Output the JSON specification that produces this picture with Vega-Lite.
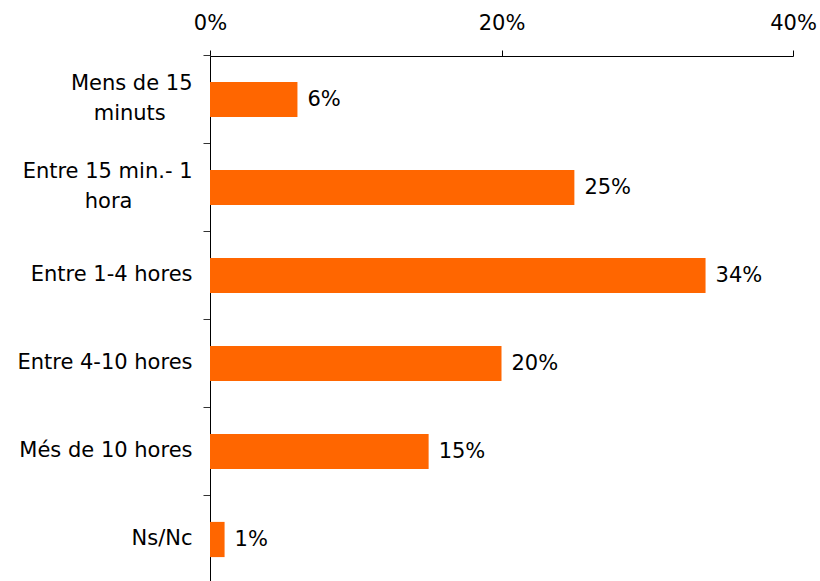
{
  "$schema": "https://vega.github.io/schema/vega-lite/v6.json",
  "autosize": "none",
  "width": 583,
  "height": 525,
  "padding": {"left": 210, "top": 56, "right": 27, "bottom": 0},
  "background": "white",
  "config": {"view": {"stroke": null}, "font": "DejaVu Sans"},
  "data": {"values": [
    {"cat": "Mens de 15 minuts", "pct": 0.06},
    {"cat": "Entre 15 min.- 1 hora", "pct": 0.25},
    {"cat": "Entre 1-4 hores", "pct": 0.34},
    {"cat": "Entre 4-10 hores", "pct": 0.20},
    {"cat": "Més de 10 hores", "pct": 0.15},
    {"cat": "Ns/Nc", "pct": 0.01}
  ]},
  "encoding": {
    "y": {
      "field": "cat", "type": "nominal", "sort": null, "title": null,
      "scale": {"paddingInner": 0.6, "paddingOuter": 0.283, "align": 0.52},
      "axis": {
        "orient": "left",
        "domainColor": "black", "domainWidth": 1,
        "tickColor": "#333333", "tickSize": 7, "bandPosition": -0.75,
        "labelFont": "DejaVu Sans", "labelFontSize": 21, "labelColor": "black",
        "labelLineHeight": 30,
        "labelExpr": "datum.value === 'Mens de 15 minuts' ? ['Mens de 15', 'minuts\u00a0\u00a0\u00a0\u00a0\u200b'] : (datum.value === 'Entre 15 min.- 1 hora' ? ['Entre 15 min.- 1', 'hora\u00a0\u00a0\u00a0\u00a0\u00a0\u00a0\u00a0\u00a0\u00a0\u200b'] : datum.label)",
        "labelBaseline": {"condition": {"test": "datum.value === 'Mens de 15 minuts' || datum.value === 'Entre 15 min.- 1 hora'", "value": "line-bottom"}, "value": "middle"},
        "labelPadding": 11,
        "labelLimit": 400
      }
    },
    "x": {
      "field": "pct", "type": "quantitative", "title": null,
      "scale": {"domain": [0, 0.4], "nice": false},
      "axis": {
        "orient": "top", "values": [0, 0.2, 0.4],
        "format": ".0%",
        "grid": false,
        "domainColor": "black", "tickColor": "black", "tickSize": 6,
        "labelFont": "DejaVu Sans", "labelFontSize": 21, "labelColor": "black",
        "labelPadding": 17, "labelFlush": false
      }
    }
  },
  "layer": [
    {"mark": {"type": "bar", "color": "#FF6600"}},
    {"mark": {"type": "text", "align": "left", "baseline": "middle", "dx": 10, "dy": 1, "fontSize": 21, "font": "DejaVu Sans", "color": "black"},
     "encoding": {"text": {"field": "pct", "type": "quantitative", "format": ".0%"}}}
  ]
}
